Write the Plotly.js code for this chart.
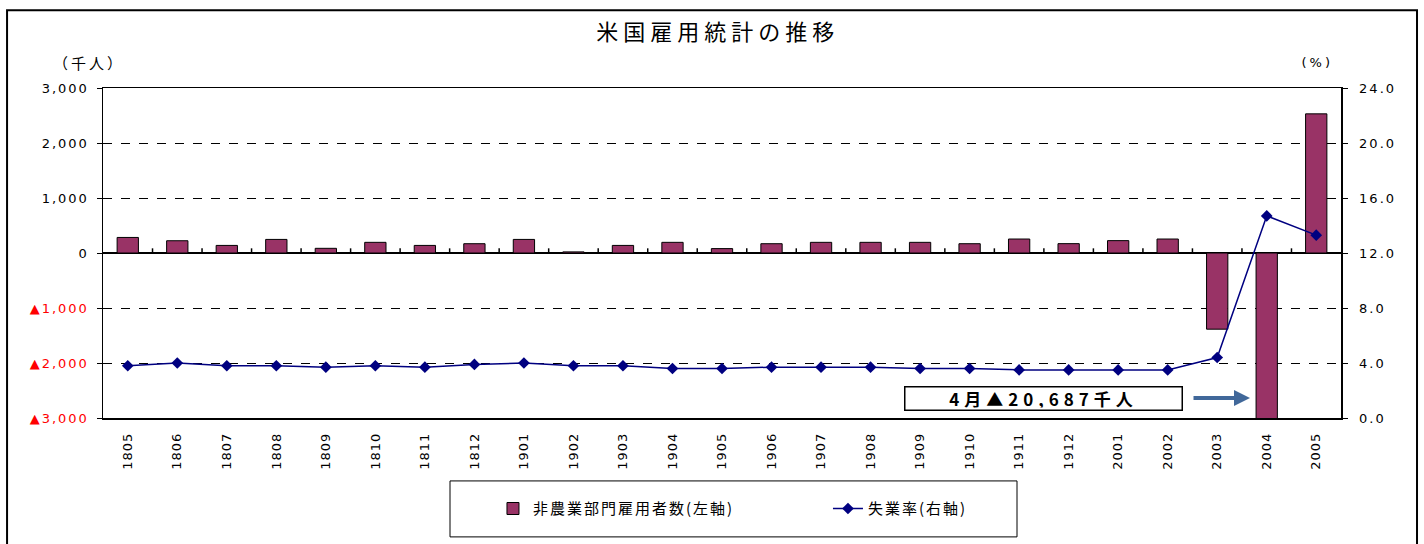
<!DOCTYPE html>
<html>
<head>
<meta charset="utf-8">
<script src="https://cdn.plot.ly/plotly-3.0.1.min.js"></script>
<style>
html,body{margin:0;padding:0;background:#fff;}
#chart{width:1424px;height:544px;}
#chart g.ytick text, #chart g.y2tick text { letter-spacing: 2px; }
#chart g.xtick text { letter-spacing: 1px; }
#chart text.gtitle { letter-spacing: 5px; }
#chart text.legendtext { letter-spacing: 2px; }
#chart g.annotation[data-index="0"] text { letter-spacing: 3px; }
#chart g.annotation[data-index="1"] text { letter-spacing: 3px; }
#chart g.annotation[data-index="2"] text { letter-spacing: 5px; }
</style>
</head>
<body>
<div id="chart"></div>
<script>
const months = ["1805","1806","1807","1808","1809","1810","1811","1812","1901","1902","1903","1904","1905","1906","1907","1908","1909","1910","1911","1912","2001","2002","2003","2004","2005"];
const payrolls = [283, 223, 138, 247, 85, 194, 138, 169, 247, 20, 138, 194, 80, 169, 194, 194, 194, 169, 254, 170, 225, 254, -1385, -20687, 2530];
const unemployment = [3.8, 4.0, 3.8, 3.8, 3.7, 3.8, 3.7, 3.9, 4.0, 3.8, 3.8, 3.6, 3.6, 3.7, 3.7, 3.7, 3.6, 3.6, 3.5, 3.5, 3.5, 3.5, 4.4, 14.7, 13.3];
const leftTickVals = [3000, 2000, 1000, 0, -1000, -2000, -3000];
const leftTickText = ["3,000", "2,000", "1,000", "0",
  "<span style='color:#ff0000'>▲1,000</span>",
  "<span style='color:#ff0000'>▲2,000</span>",
  "<span style='color:#ff0000'>▲3,000</span>"];
const rightTickVals = [0, 4, 8, 12, 16, 20, 24];
const rightTickText = ["0.0", "4.0", "8.0", "12.0", "16.0", "20.0", "24.0"];
const barName = "非農業部門雇用者数(左軸)";
const lineName = "失業率(右軸)";
const noteText = "4月▲20,687千人";

const FONT = "'Noto Sans CJK JP', 'DejaVu Sans', sans-serif";
const NUMFONT = "'DejaVu Sans', 'Liberation Sans', sans-serif";

const traces = [
  {
    type: "bar", x: months, y: payrolls, name: barName,
    marker: {color: "#993366", line: {color: "#000000", width: 1}},
    xaxis: "x", yaxis: "y"
  },
  {
    type: "scatter", mode: "lines+markers", x: months, y: unemployment, name: lineName,
    line: {color: "#000080", width: 1.5},
    marker: {symbol: "diamond", size: 9, color: "#000080"},
    xaxis: "x", yaxis: "y2"
  }
];

// small category-boundary tick marks on the zero line (axis decoration)
const zeroTicks = [];
for (let i = 1; i < months.length; i++) {
  const px = i / months.length;
  zeroTicks.push({type: "line", xref: "paper", yref: "y", x0: px, x1: px,
    y0: 0, y1: 85, layer: "above", line: {color: "#000000", width: 1.5}});
}

const layout = {
  width: 1424, height: 544,
  margin: {l: 103, r: 83, t: 88, b: 126},
  paper_bgcolor: "#ffffff", plot_bgcolor: "#ffffff",
  font: {family: FONT, color: "#000000", size: 13},
  title: {text: "米国雇用統計の推移", x: 0.504, xref: "container", y: 0.941, yref: "container",
          xanchor: "center", yanchor: "middle", font: {family: FONT, size: 22, color: "#000"}},
  bargap: 0.57,
  showlegend: true,
  legend: {orientation: "h", x: 0.315, xanchor: "left", y: -0.275, yanchor: "middle",
           font: {family: FONT, size: 15}, bgcolor: "rgba(0,0,0,0)", traceorder: "normal",
           entrywidth: 290, entrywidthmode: "pixels"},
  xaxis: {
    type: "category", categoryarray: months, range: [-0.5, 24.5],
    showline: true, linecolor: "#000", linewidth: 1.5, mirror: true,
    showgrid: false, ticks: "", tickangle: -90,
    tickfont: {family: NUMFONT, size: 13}, ticklabelstandoff: 8, zeroline: false
  },
  yaxis: {
    range: [-3000, 3000], tickvals: leftTickVals, ticktext: leftTickText,
    tickfont: {family: NUMFONT, size: 13, color: "#000"},
    showline: true, linecolor: "#000", linewidth: 1.5,
    ticks: "outside", ticklen: 5, tickcolor: "#000", tickwidth: 1,
    showgrid: true, gridcolor: "#000", griddash: "dash", gridwidth: 1,
    zeroline: true, zerolinecolor: "#000", zerolinewidth: 1.5,
    ticklabelstandoff: 5
  },
  yaxis2: {
    overlaying: "y", side: "right", range: [0, 24],
    tickvals: rightTickVals, ticktext: rightTickText,
    tickfont: {family: NUMFONT, size: 13, color: "#000"},
    showline: true, linecolor: "#000", linewidth: 1.5,
    ticks: "outside", ticklen: 5, tickcolor: "#000", tickwidth: 1,
    showgrid: false, zeroline: false, ticklabelstandoff: 9
  },
  shapes: [
    {type: "rect", xref: "paper", yref: "paper", x0: -0.0775, x1: 1.0614, y0: -0.40, y1: 1.2353,
     line: {color: "#000", width: 2}, fillcolor: "rgba(0,0,0,0)", layer: "below"},
    {type: "rect", xref: "paper", yref: "paper", x0: 0.2803, x1: 0.7383, y0: -0.3603, y1: -0.1907,
     line: {color: "#000", width: 1}, fillcolor: "rgba(0,0,0,0)"}
  ].concat(zeroTicks),
  annotations: [
    {text: "（千人）", xref: "paper", yref: "paper", x: -0.0113, y: 1.0778, showarrow: false,
     xanchor: "center", yanchor: "middle", font: {family: FONT, size: 15}},
    {text: "(%)", xref: "paper", yref: "paper", x: 0.9814, y: 1.0778, showarrow: false,
     xanchor: "center", yanchor: "middle", font: {family: NUMFONT, size: 13}},
    {text: "<b>" + noteText + "</b>", xref: "paper", yref: "paper", x: 0.760, y: 0.0606,
     showarrow: false, xanchor: "center", yanchor: "middle",
     font: {family: FONT, size: 17, color: "#000"},
     bgcolor: "#ffffff", bordercolor: "#000", borderwidth: 1.5, width: 272, height: 18, borderpad: 2},
    {text: "", xref: "paper", yref: "paper", x: 0.9265, y: 0.0606, ax: -58, ay: 0,
     showarrow: true, arrowhead: 2, arrowsize: 0.8, arrowwidth: 4, arrowcolor: "#41689a"}
  ]
};

Plotly.newPlot("chart", traces, layout, {displayModeBar: false, staticPlot: true});
</script>
</body>
</html>
